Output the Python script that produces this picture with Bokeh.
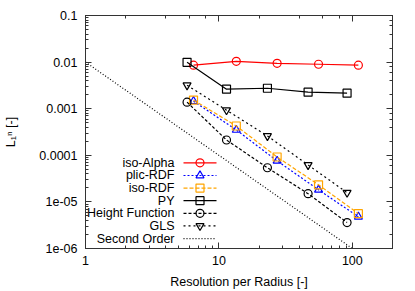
import numpy as np
from bokeh.plotting import figure
from bokeh.models import LogAxis, Range1d, CustomJSTickFormatter
from bokeh.core.properties import value
from bokeh.embed import file_html
from bokeh.resources import INLINE

# ---- data ----
x_a = [6.45, 13.5, 27.3, 55.8, 111.0]     # iso-Alpha, plic-RDF, iso-RDF
x_b = [5.77, 11.4, 23.1, 46.6, 91.3]      # PY, Height Function, GLS
iso_alpha = [0.0086, 0.0104, 0.0094, 0.0090, 0.0086]
plic_rdf = [0.00145, 3.5e-4, 7.6e-5, 1.82e-5, 4.8e-6]
iso_rdf = [0.00153, 4.25e-4, 9.2e-5, 2.33e-5, 5.6e-6]
py = [0.0099, 0.00262, 0.00275, 0.00226, 0.00215]
height_fn = [0.00138, 2.13e-4, 5.4e-5, 1.5e-5, 3.6e-6]
gls = [0.00319, 9.3e-4, 2.6e-4, 6.2e-5, 1.58e-5]
second_x = [1, 100]
second_y = [0.01, 1e-6]

names = ["iso-Alpha", "plic-RDF", "iso-RDF", "PY", "Height Function", "GLS", "Second Order"]

x_tick_exps = [0, 1, 2]
x_tick_labels = ["1", "10", "100"]
y_tick_exps = [-1, -2, -3, -4, -5, -6]
y_tick_labels = ["0.1", "0.01", "0.001", "0.0001", "1e-05", "1e-06"]

XMIN, XMAX = 1, 200
YMIN, YMAX = 1e-6, 0.1
FONT = "Liberation Sans"
FS = "12.5px"

W, H = 410, 291
p = figure(width=W, height=H, x_axis_type="log", y_axis_type="log",
           x_range=Range1d(XMIN, XMAX), y_range=Range1d(YMIN, YMAX),
           output_backend="svg", toolbar_location=None,
           min_border_left=85, min_border_right=W - 392, min_border_top=15,
           min_border_bottom=H - 249)
p.xgrid.visible = False
p.ygrid.visible = False
p.outline_line_color = "#333333"
p.outline_line_width = 1
p.background_fill_color = "white"
p.border_fill_color = "white"

FMT_CODE = """
const e = Math.round(Math.log10(tick));
const i = exps.indexOf(e);
return i >= 0 ? labels[i] : '';
"""

def style_axis(ax, labels=True):
    ax.axis_line_color = "#333333"
    ax.major_tick_line_color = "#333333"
    ax.minor_tick_line_color = "#333333"
    ax.major_tick_in = 6
    ax.major_tick_out = 0
    ax.minor_tick_in = 3
    ax.minor_tick_out = 0
    ax.major_label_text_font = FONT
    ax.major_label_text_font_size = FS if labels else "1px"
    ax.major_label_text_color = "black" if labels else None
    ax.axis_label_text_font = FONT
    ax.axis_label_text_font_size = FS
    ax.axis_label_text_font_style = "normal"
    ax.axis_label_text_color = "black"

xa = p.xaxis[0]
ya = p.yaxis[0]
style_axis(xa)
style_axis(ya)
xa.formatter = CustomJSTickFormatter(args=dict(exps=x_tick_exps, labels=x_tick_labels), code=FMT_CODE)
ya.formatter = CustomJSTickFormatter(args=dict(exps=y_tick_exps, labels=y_tick_labels), code=FMT_CODE)
xa.axis_label = "Resolution per Radius [-]"
ya.axis_label = "L\u2081\u207f [-]"
xa.major_label_standoff = 7
xa.axis_label_standoff = 7
ya.major_label_standoff = 8
ya.axis_label_standoff = 18

top = LogAxis(major_label_standoff=0)
right = LogAxis(major_label_standoff=0)
style_axis(top, labels=False)
style_axis(right, labels=False)
p.add_layout(top, "above")
p.add_layout(right, "right")

LW = 1.2
series = [
    (x_a, iso_alpha, "red", "solid", "circle"),
    (x_a, plic_rdf, "blue", "2 2", "triangle"),
    (x_a, iso_rdf, "orange", "4 2", "square"),
    (x_b, py, "black", "solid", "square"),
    (x_b, height_fn, "black", "3 2", "circle"),
    (x_b, gls, "black", "2 3", "inverted_triangle"),
]

p.line(second_x, second_y, line_color="black", line_dash="1 2", line_width=LW)
for xs, ys, col, dash, mk in series:
    p.line(xs, ys, line_color=col, line_dash=dash, line_width=LW)
    p.scatter(xs, ys, marker=mk, size=8, line_color=col, fill_color=None, line_width=LW)

# ---- legend (gnuplot style: text left, sample right) ----
def xd(px):
    lo, hi = np.log10(XMIN), np.log10(XMAX)
    return 10 ** (lo + (px - 85) / 307 * (hi - lo))

def yd(py_):
    lo, hi = np.log10(YMIN), np.log10(YMAX)
    return 10 ** (hi - (py_ - 15) / 234 * (hi - lo))

rows = [163 + 12.67 * i for i in range(7)]
ys_leg = [yd(r) for r in rows]
p.text(x=[xd(174)] * 7, y=ys_leg, text=names, text_align="right", text_baseline="middle",
       text_font=value(FONT), text_font_size=FS, text_color="black")

leg_styles = [(s[2], s[3], s[4]) for s in series] + [("black", "1 2", None)]
for yl, (col, dash, mk) in zip(ys_leg, leg_styles):
    p.segment(x0=[xd(183)], x1=[xd(216)], y0=[yl], y1=[yl], line_color=col, line_dash=dash, line_width=LW)
    if mk:
        p.scatter([xd(199.5)], [yl], marker=mk, size=8, line_color=col, fill_color=None, line_width=LW)

open("out.html", "w").write(file_html(p, INLINE))
